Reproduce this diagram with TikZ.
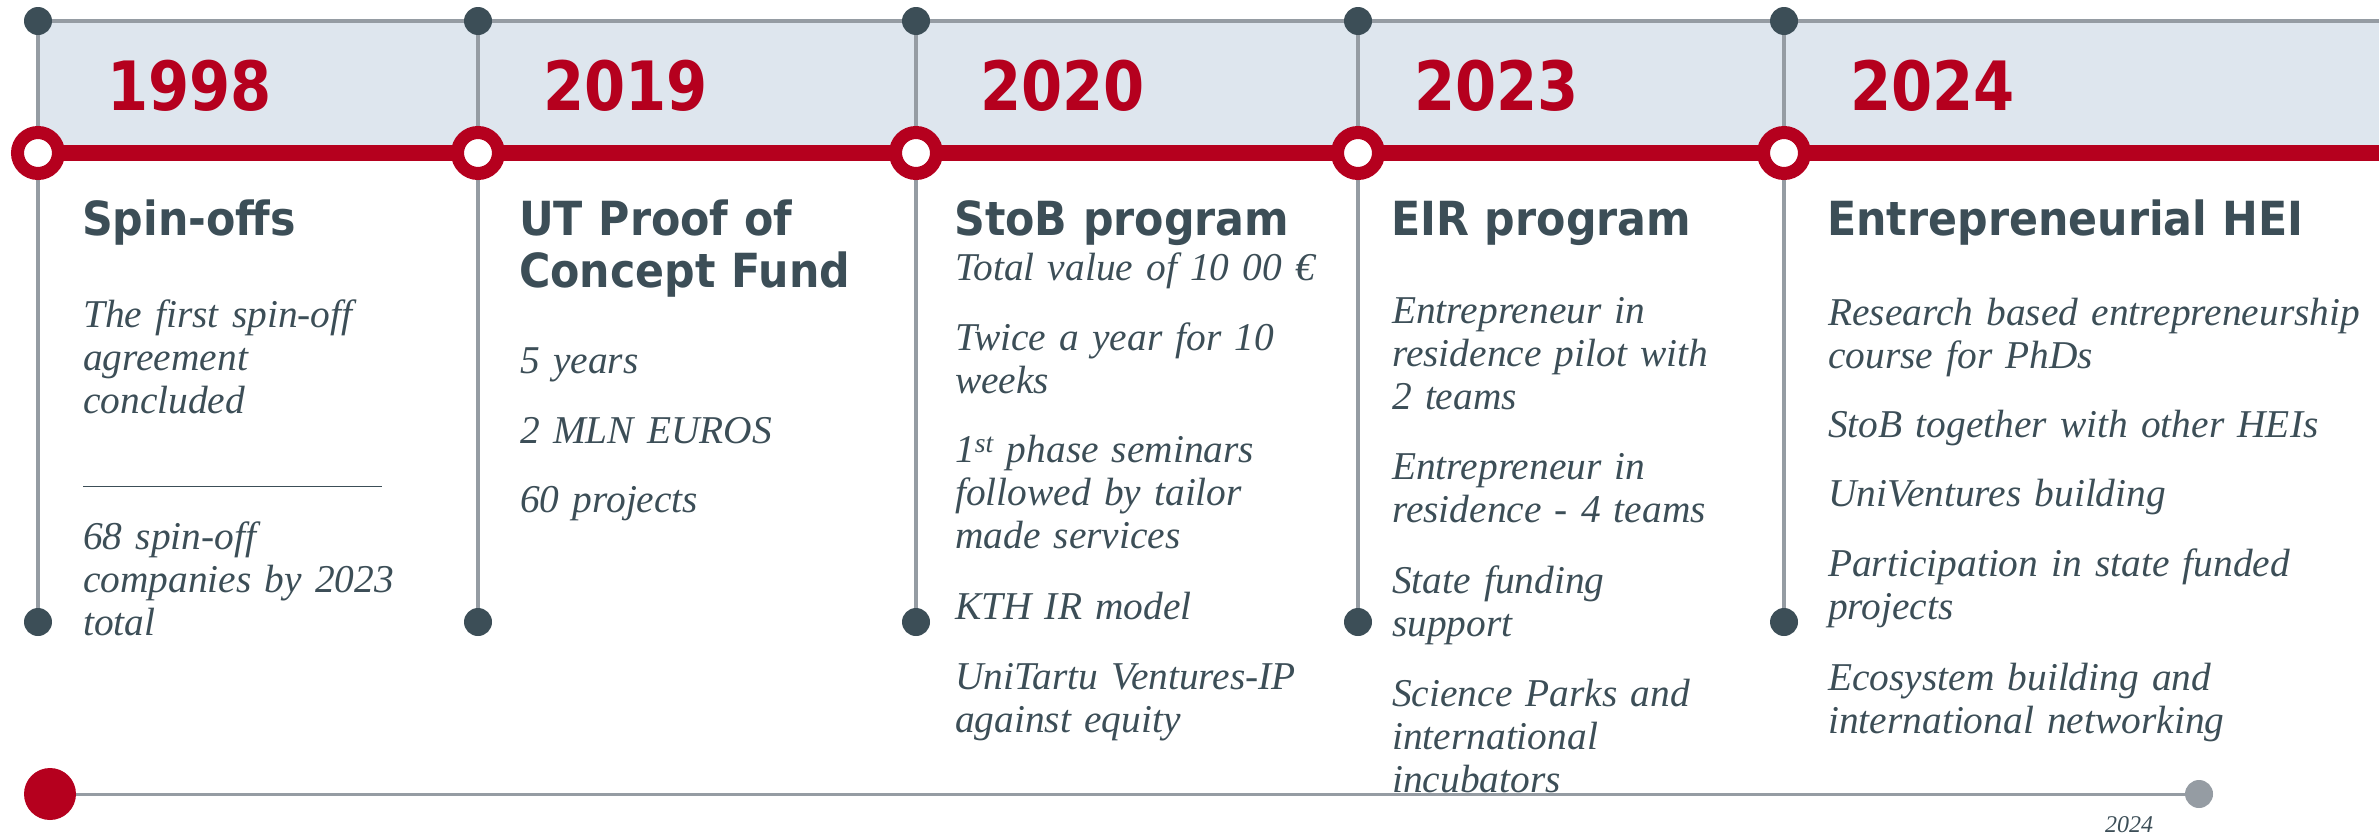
\documentclass[tikz,border=0pt]{standalone}
\usepackage{fontspec}
\setmainfont{Liberation Serif}
\newfontfamily\headfont{DejaVu Sans}[FakeStretch=0.91]
\newfontfamily\yearfont{DejaVu Sans}[FakeStretch=0.87]
\usepackage{xcolor}
\usepackage{tikz}
\usetikzlibrary{positioning,backgrounds,calc}

\definecolor{utred}{HTML}{B5001E}
\definecolor{bandblue}{HTML}{DEE6EE}
\definecolor{linegray}{HTML}{959CA3}
\definecolor{slate}{HTML}{3C4E57}

\begin{document}
\begin{tikzpicture}[x=1pt, y=-1pt,
    topdot/.style={circle, fill=slate, inner sep=0, minimum size=28},
    ring/.style={circle, draw=utred, line width=13, fill=white, inner sep=0, minimum size=41},
    vline/.style={linegray, line width=4},
    year/.style={font=\yearfont\bfseries\fontsize{68}{70}\selectfont, text=utred, anchor=base west, inner sep=0},
    head/.style={font=\headfont\bfseries\fontsize{47}{52}\selectfont, text=slate, anchor=base west, inner sep=0, text width=560, align=left},
    item/.style={font=\itshape\fontsize{39.4}{43}\selectfont, text=slate, anchor=base west, inner sep=0, text width=560, align=left}
]
\useasboundingbox (0,0) rectangle (2379,833);

% Top and bottom dots
\node[topdot] (t1) at (38,21) {};
\node[topdot] (t2) at (478,21) {};
\node[topdot] (t3) at (916,21) {};
\node[topdot] (t4) at (1358,21) {};
\node[topdot] (t5) at (1784,21) {};
\node[topdot] (b1) at (38,622) {};
\node[topdot] (b2) at (478,622) {};
\node[topdot] (b3) at (916,622) {};
\node[topdot] (b4) at (1358,622) {};
\node[topdot] (b5) at (1784,622) {};

% Rings on the red line
\node[ring] (r1) at (38,153) {};
\node[ring] (r2) at (478,153) {};
\node[ring] (r3) at (916,153) {};
\node[ring] (r4) at (1358,153) {};
\node[ring] (r5) at (1784,153) {};

\coordinate (topend) at (2379,21);
\coordinate (redend) at (2379,153);

% Band and lines
\begin{scope}[on background layer]
\fill[bandblue] (t1.center) rectangle (redend);
\draw[vline] (t1.center) -- (topend);
\draw[vline] (t1) -- (b1);
\draw[vline] (t2) -- (b2);
\draw[vline] (t3) -- (b3);
\draw[vline] (t4) -- (b4);
\draw[vline] (t5) -- (b5);
\draw[utred, line width=16] (r1.center) -- (redend);
\end{scope}

% Years
\node[year] (y1) at (107,110) {1998};
\node[year] (y2) at (543,110) {2019};
\node[year] (y3) at (980,110) {2020};
\node[year] (y4) at (1414,110) {2023};
\node[year] (y5) at (1850,110) {2024};

% Headings
\node[head] (h1) at (82,235) {Spin-offs};
\node[head] (h2) at (519,235) {UT Proof of\\Concept Fund};
\node[head] (h3) at (954,235) {StoB program};
\node[head] (h4) at (1391,235) {EIR program};
\node[head] (h5) at (1827,235) {Entrepreneurial HEI};

% 1998
\node[item] (a1) at (83,327) {The first spin-off\\agreement\\concluded};
\draw[slate, line width=1] (83,486) -- (382,486);
\node[item] (a2) at (83,549) {68 spin-off\\companies by 2023\\total};

% 2019
\node[item] (p1) at (520,373) {5 years};
\node[item] (p2) at (520,443) {2 MLN EUROS};
\node[item] (p3) at (520,512) {60 projects};

% 2020
\node[item] (s1) at (955,280) {Total value of 10 00 €};
\node[item] (s2) at (955,350) {Twice a year for 10\\weeks};
\node[item] (s3) at (955,462) {1\textsuperscript{st} phase seminars\\followed by tailor\\made services};
\node[item] (s4) at (955,619) {KTH IR model};
\node[item] (s5) at (955,689) {UniTartu Ventures-IP\\against equity};

% 2023
\node[item] (e1) at (1392,323) {Entrepreneur in\\residence pilot with\\2 teams};
\node[item] (e2) at (1392,479) {Entrepreneur in\\residence - 4 teams};
\node[item] (e3) at (1392,593) {State funding\\support};
\node[item] (e4) at (1392,706) {Science Parks and\\international\\incubators};

% 2024
\node[item] (u1) at (1828,325) {Research based entrepreneurship\\course for PhDs};
\node[item] (u2) at (1828,437) {StoB together with other HEIs};
\node[item] (u3) at (1828,506) {UniVentures building};
\node[item] (u4) at (1828,576) {Participation in state funded\\projects};
\node[item] (u5) at (1828,690) {Ecosystem building and\\international networking};

% Bottom timeline
\node[circle, fill=utred, inner sep=0, minimum size=52] (start) at (50,794) {};
\node[circle, fill=linegray, inner sep=0, minimum size=28] (end) at (2199,794) {};
\draw[linegray, line width=3] (start) -- (end);
\node[font=\itshape\fontsize{24}{26}\selectfont, text=slate, anchor=base, inner sep=0] (last) at (2129,832) {2024};

\end{tikzpicture}
\end{document}
